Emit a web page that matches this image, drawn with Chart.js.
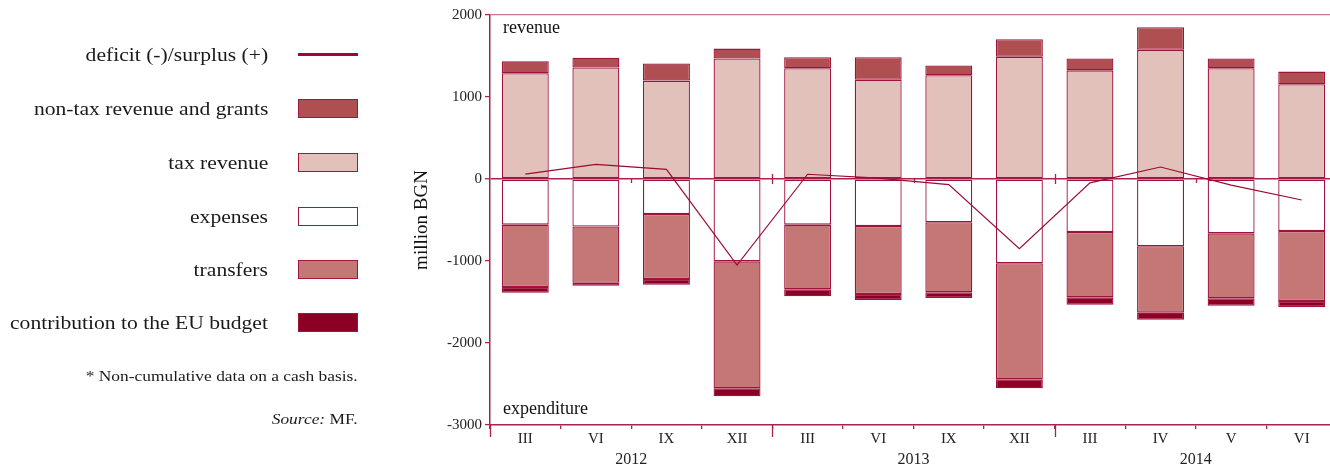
<!DOCTYPE html>
<html>
<head>
<meta charset="utf-8">
<title>Budget revenue and expenditure</title>
<script src="https://cdn.jsdelivr.net/npm/chart.js@4.4.1/dist/chart.umd.min.js"></script>
<style>
    html, body {
        margin: 0;
        padding: 0;
        background: #ffffff;
        overflow: hidden;
        width: 1330px;
        height: 466px;
    }
    #wrap {
        position: relative;
        width: 1330px;
        height: 466px;
    }
    #budgetChart {
        position: absolute;
        left: 0;
        top: 0;
    }
    .legend-row {
        position: absolute;
        left: 0;
        width: 358px;
        height: 19px;
    }
    .legend-text {
        position: absolute;
        right: 90px;
        top: 50%;
        transform: translateY(-50%) scaleX(1.2);
        transform-origin: right center;
        font: 18px "Liberation Serif", "DejaVu Serif", serif;
        color: #1a1a1a;
        white-space: nowrap;
    }
    .legend-box {
        position: absolute;
        right: 0;
        top: 0;
        width: 60px;
        height: 19px;
        box-sizing: border-box;
        border: 1px solid #a3153f;
    }
    .legend-line {
        position: absolute;
        right: 0;
        top: 8px;
        width: 60px;
        height: 3px;
    }
    .note {
        position: absolute;
        right: 972px;
        transform: scaleX(1.2);
        transform-origin: right center;
        font: 14.5px "Liberation Serif", "DejaVu Serif", serif;
        color: #1a1a1a;
        white-space: nowrap;
    }
</style>
</head>
<body>
<div id="wrap">
    <canvas id="budgetChart" width="1345" height="466"></canvas>
    <div id="legend"></div>
    <div class="note" style="top: 368px;">* Non-cumulative data on a cash basis.</div>
    <div class="note" style="top: 411px;"><i>Source:</i> MF.</div>
</div>
<script>
const categories = ["III", "VI", "IX", "XII", "III", "VI", "IX", "XII", "III", "IV", "V", "VI"];
const yearLabels = ["2012", "2013", "2014"];
const yearSizes = [4, 4, 4];

const taxRevenue = [1290, 1360, 1200, 1470, 1350, 1210, 1265, 1490, 1325, 1575, 1350, 1155];
const nonTaxRevenue = [145, 120, 210, 120, 135, 275, 120, 215, 145, 275, 120, 155];
const expenses = [-557, -580, -427, -1004, -557, -573, -528, -1028, -646, -821, -663, -634];
const transfers = [-760, -685, -793, -1549, -789, -829, -854, -1415, -797, -809, -792, -854];
const euContribution = [-70, -37, -70, -97, -85, -74, -69, -110, -90, -85, -90, -73];
const deficitSurplus = [60, 179, 118, -1049, 58, 10, -68, -850, -47, 146, -75, -256];

const axisColor = "#a8234d";
const topLineColor = "#c97a92";
const edgeColor = "#a0123d";
const serif = "'Liberation Serif', 'DejaVu Serif', serif";

function barSet(label, data, color) {
    return {
        type: "bar",
        label: label,
        data: data,
        backgroundColor: color,
        borderColor: edgeColor,
        borderWidth: 1.3,
        borderSkipped: false,
        stack: "budget",
        order: 1,
        categoryPercentage: 1,
        barPercentage: 0.665
    };
}

const datasets = [
    {
        type: "line",
        label: "deficit (-)/surplus (+)",
        data: deficitSurplus,
        borderColor: "#9b0a35",
        backgroundColor: "#9b0a35",
        borderWidth: 1.2,
        pointRadius: 0,
        tension: 0,
        stack: "balance",
        order: 0
    },
    barSet("tax revenue", taxRevenue, "#e3c1bb"),
    barSet("non-tax revenue and grants", nonTaxRevenue, "#b04f51"),
    barSet("expenses", expenses, "#ffffff"),
    barSet("transfers", transfers, "#c47775"),
    barSet("contribution to the EU budget", euContribution, "#8c0026")
];

// legend order as in the original
const legendOrder = [0, 2, 1, 3, 4, 5];
const legendTops = [45, 99, 153, 207, 260, 313];

const legend = document.getElementById("legend");
legendOrder.forEach((idx, i) => {
    const ds = datasets[idx];
    const row = document.createElement("div");
    row.className = "legend-row";
    row.style.top = legendTops[i] + "px";
    const text = document.createElement("span");
    text.className = "legend-text";
    text.textContent = ds.label;
    row.appendChild(text);
    const mark = document.createElement("div");
    if (ds.type === "line") {
        mark.className = "legend-line";
        mark.style.background = ds.borderColor;
    } else {
        mark.className = "legend-box";
        mark.style.background = ds.backgroundColor;
    }
    row.appendChild(mark);
    legend.appendChild(row);
});

const budgetDecor = {
    id: "budgetDecor",
    afterDraw(chart) {
        const { ctx, chartArea, scales } = chart;
        const x = scales.x;
        const y = scales.y;
        const zero = y.getPixelForValue(0);
        const half = (x.getPixelForValue(1) - x.getPixelForValue(0)) / 2;

        ctx.save();
        ctx.fillStyle = "#111111";
        ctx.font = "18px " + serif;
        ctx.textAlign = "left";
        ctx.textBaseline = "alphabetic";
        ctx.fillText("revenue", chartArea.left + 13, chartArea.top + 18);
        ctx.fillText("expenditure", chartArea.left + 13, chartArea.bottom - 11);

        ctx.strokeStyle = axisColor;
        ctx.lineWidth = 1.3;
        ctx.font = "16px " + serif;
        ctx.textAlign = "center";
        ctx.textBaseline = "middle";
        ctx.fillStyle = "#222222";

        let start = 0;
        yearSizes.forEach((n, i) => {
            const a = x.getPixelForValue(start) - half;
            const b = x.getPixelForValue(start + n - 1) + half;
            ctx.fillText(yearLabels[i], (a + b) / 2, chartArea.bottom + 35);

            const ax = Math.round(a) + 0.5;
            ctx.beginPath();
            ctx.moveTo(ax, chartArea.bottom);
            ctx.lineTo(ax, chartArea.bottom + 12);
            if (i > 0) {
                ctx.moveTo(ax, zero - 5);
                ctx.lineTo(ax, zero + 5);
            }
            const mid = Math.round(x.getPixelForValue(start + n / 2) - half) + 0.5;
            ctx.moveTo(mid, zero);
            ctx.lineTo(mid, zero + 4);
            ctx.stroke();
            start += n;
        });
        ctx.restore();
    }
};

new Chart(document.getElementById("budgetChart"), {
    data: {
        labels: categories,
        datasets: datasets
    },
    options: {
        responsive: false,
        animation: false,
        layout: {
            padding: { left: 400, top: 15, right: 8, bottom: 0 }
        },
        plugins: {
            legend: { display: false },
            tooltip: { enabled: false }
        },
        scales: {
            x: {
                stacked: true,
                offset: true,
                grid: {
                    offset: true,
                    drawOnChartArea: false,
                    color: axisColor,
                    lineWidth: 1.3,
                    tickLength: 4
                },
                border: { color: axisColor, width: 1.5 },
                ticks: {
                    color: "#222222",
                    padding: 1,
                    font: { family: serif, size: 15 }
                },
                afterFit(scale) {
                    scale.height = 41;
                }
            },
            y: {
                stacked: true,
                min: -3000,
                max: 2000,
                ticks: {
                    stepSize: 1000,
                    color: "#222222",
                    padding: 3,
                    font: { family: serif, size: 15 },
                    callback: v => String(v)
                },
                grid: {
                    color: c => {
                        if (!c.tick) return "rgba(0,0,0,0)";
                        if (c.tick.value === 0) return axisColor;
                        if (c.tick.value === 2000) return topLineColor;
                        return "rgba(0,0,0,0)";
                    },
                    lineWidth: c => (c.tick && c.tick.value === 0) ? 1.5 : 1.2,
                    tickColor: axisColor,
                    tickWidth: 1.3,
                    tickLength: 5
                },
                border: { color: axisColor, width: 1.5 },
                title: {
                    display: true,
                    text: "million BGN",
                    color: "#111111",
                    padding: { top: 11, bottom: 0 },
                    font: { family: serif, size: 19 }
                },
                afterFit(scale) {
                    scale.width = 90;
                }
            }
        }
    },
    plugins: [budgetDecor]
});
</script>
</body>
</html>
